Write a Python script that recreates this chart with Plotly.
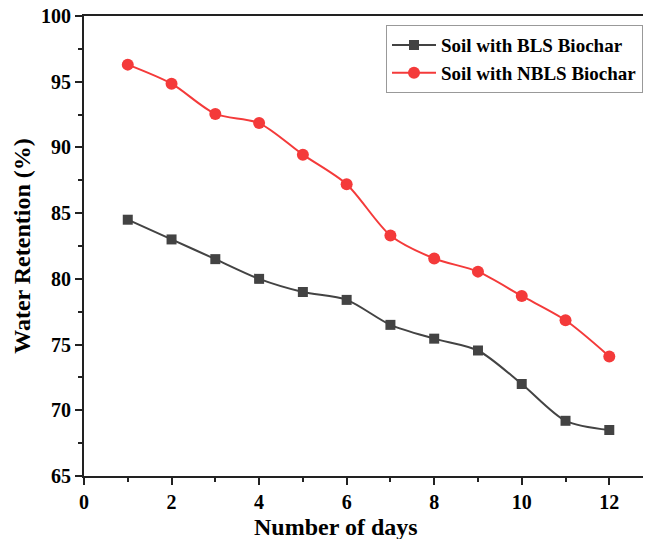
import plotly.graph_objects as go

days = [1, 2, 3, 4, 5, 6, 7, 8, 9, 10, 11, 12]
bls = [84.5, 83.0, 81.5, 80.0, 79.0, 78.4, 76.5, 75.45, 74.55, 72.0, 69.2, 68.5]
nbls = [96.3, 94.85, 92.55, 91.85, 89.45, 87.2, 83.3, 81.55, 80.55, 78.7, 76.85, 74.1]
names = ["Soil with BLS Biochar", "Soil with NBLS Biochar"]

font = "Liberation Serif, Times New Roman, serif"

fig = go.Figure()
fig.add_trace(go.Scatter(x=days, y=bls, name=names[0], mode="lines+markers",
                         line=dict(color="#434343", width=2, shape="spline", smoothing=0.8),
                         marker=dict(symbol="square", size=10, color="#434343")))
fig.add_trace(go.Scatter(x=days, y=nbls, name=names[1], mode="lines+markers",
                         line=dict(color="#f43a3a", width=2, shape="spline", smoothing=0.8),
                         marker=dict(symbol="circle", size=12, color="#f43a3a")))

fig.update_layout(
    width=645, height=539,
    margin=dict(l=84, r=2, t=16, b=63),
    plot_bgcolor="white", paper_bgcolor="white",
    font=dict(family=font, color="black", size=19),
    legend=dict(x=1.0, y=0.98, xanchor="right", yanchor="top",
                bordercolor="#999999", borderwidth=1, bgcolor="white",
                font=dict(family=font, size=19, color="black", weight="bold"),
                tracegroupgap=0, itemwidth=44),
    showlegend=True,
    annotations=[dict(text="<b>Number of days</b>", xref="paper", yref="paper",
                      x=0.451, y=-0.078, xanchor="center", yanchor="top", showarrow=False,
                      font=dict(family=font, size=24, color="black"))],
)
fig.update_xaxes(range=[0, 12.77], tickvals=[0, 2, 4, 6, 8, 10, 12],
                 ticks="outside", ticklen=7, tickwidth=2, tickcolor="#222",
                 minor=dict(ticks="outside", ticklen=4, tickwidth=2, dtick=1, tickcolor="#222"),
                 showline=True, linecolor="#222", linewidth=2, mirror=True,
                 showgrid=False, zeroline=False,
                 tickfont=dict(family=font, size=20, weight="bold"))
fig.update_yaxes(range=[65, 100], tickvals=[65, 70, 75, 80, 85, 90, 95, 100],
                 ticks="outside", ticklen=7, tickwidth=2, tickcolor="#222",
                 minor=dict(ticks="outside", ticklen=4, tickwidth=2, dtick=2.5, tickcolor="#222"),
                 showline=True, linecolor="#222", linewidth=2, mirror=False,
                 showgrid=False, zeroline=False,
                 tickfont=dict(family=font, size=20, weight="bold"),
                 title=dict(text="<b>Water Retention (%)</b>", font=dict(family=font, size=24), standoff=4))

fig.write_html("out.html")
